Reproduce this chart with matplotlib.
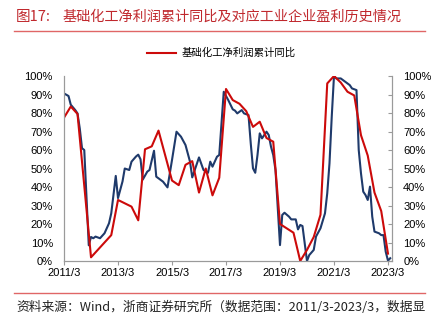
import matplotlib
matplotlib.use("Agg")
import matplotlib.pyplot as plt
from matplotlib.lines import Line2D
import pandas as pd

plt.rcParams["font.family"] = ["Liberation Sans", "Noto Sans CJK SC"]
CJK = ["Noto Sans CJK SC", "DejaVu Sans"]

# 基础化工净利润累计同比（季度）
chem_dates = [
    "2011-03", "2011-06", "2011-09", "2012-03", "2012-12", "2013-03", "2013-09",
    "2013-12", "2014-03", "2014-06", "2014-09", "2015-03", "2015-06", "2015-09",
    "2015-12", "2016-03", "2016-06", "2016-09", "2016-12", "2017-03", "2017-06",
    "2017-09", "2017-12", "2018-03", "2018-06", "2018-09", "2018-12", "2019-03",
    "2019-09", "2019-12", "2020-03", "2020-06", "2020-09", "2020-12", "2021-03",
    "2021-06", "2021-09", "2021-12", "2022-03", "2022-06", "2022-09", "2022-12",
    "2023-03",
]
chem_vals = [
    77.5, 83.5, 79.5, 2.0, 14.0, 33.0, 29.4,
    22.0, 60.4, 62.0, 70.5, 43.5, 41.0, 52.0,
    54.0, 37.0, 50.0, 35.5, 45.0, 93.0, 87.0,
    85.0, 81.0, 72.5, 75.3, 66.5, 64.5, 20.0,
    15.3, 0.0, 6.0, 13.0, 25.0, 96.0, 100.0,
    96.5, 91.5, 89.5, 68.0, 57.0, 37.0, 27.0,
    4.0,
]

# 工业企业利润累计同比（月度）
ind_dates = [
    "2011-03", "2011-05", "2011-06", "2011-08", "2011-09", "2011-10", "2011-11",
    "2011-12", "2012-02", "2012-03", "2012-04", "2012-05", "2012-07", "2012-09",
    "2012-11", "2012-12", "2013-02", "2013-03", "2013-05", "2013-06", "2013-08",
    "2013-09", "2013-11", "2013-12", "2014-01", "2014-02", "2014-04", "2014-05",
    "2014-07", "2014-08", "2014-11", "2015-01", "2015-03", "2015-05", "2015-07",
    "2015-09", "2015-11", "2015-12", "2016-03", "2016-05", "2016-07", "2016-08",
    "2016-09", "2016-11", "2016-12", "2017-02", "2017-04", "2017-06", "2017-07",
    "2017-08", "2017-10", "2017-11", "2018-01", "2018-02", "2018-03", "2018-04",
    "2018-05", "2018-06", "2018-07", "2018-09", "2018-10", "2018-11", "2018-12",
    "2019-01", "2019-03", "2019-04", "2019-05", "2019-07", "2019-08", "2019-10",
    "2019-11", "2019-12", "2020-01", "2020-03", "2020-04", "2020-06", "2020-07",
    "2020-09", "2020-11", "2020-12", "2021-01", "2021-02", "2021-03", "2021-04",
    "2021-06", "2021-08", "2021-10", "2021-11", "2022-01", "2022-02", "2022-03",
    "2022-04", "2022-05", "2022-06", "2022-07", "2022-08", "2022-09", "2022-11",
    "2022-12", "2023-01", "2023-02", "2023-03", "2023-04",
]
ind_vals = [
    90.6, 89.2, 84.5, 81.6, 79.8, 71.7, 61.0,
    60.0, 8.5, 13.0, 12.3, 13.2, 12.3, 15.0,
    20.4, 25.8, 46.0, 34.0, 43.0, 50.0, 49.2,
    53.7, 56.5, 57.5, 55.0, 44.0, 48.3, 49.2,
    59.6, 45.6, 42.9, 39.8, 54.6, 69.9, 67.2,
    62.7, 53.7, 45.2, 56.0, 49.2, 47.7, 53.7,
    51.0, 56.4, 57.3, 91.5, 87.0, 82.0, 81.3,
    79.8, 81.6, 79.8, 78.9, 63.6, 50.1, 47.7,
    57.3, 69.0, 66.3, 69.9, 68.1, 61.8, 57.3,
    49.2, 8.6, 24.9, 26.1, 24.0, 22.5, 22.5,
    17.1, 19.5, 18.9, 0.0, 3.2, 6.0, 13.2,
    17.7, 25.8, 36.6, 52.8, 78.0, 100.0, 98.7,
    98.7, 96.9, 95.1, 93.3, 92.4, 60.0, 47.4,
    37.5, 35.7, 33.0, 40.2, 24.0, 15.9, 15.0,
    14.0, 14.0, 5.0, 0.2, 1.5,
]

tick_dates = ["2011-03", "2013-03", "2015-03", "2017-03", "2019-03", "2021-03", "2023-03"]
tick_labels = ["2011/3", "2013/3", "2015/3", "2017/3", "2019/3", "2021/3", "2023/3"]
pct_ticks = [0, 10, 20, 30, 40, 50, 60, 70, 80, 90, 100]


def month_index(dates):
    # 以 2011/3 为起点的月份序号
    start = pd.Period("2011-03", freq="M")
    return [(p - start).n for p in pd.PeriodIndex(dates, freq="M")]


RED = "#CC0A0A"
BLUE = "#1F3A6B"
GRAY = "#9A9A9A"

fig = plt.figure(figsize=(4.34, 3.27), dpi=100)
ax = fig.add_axes([0.1475, 0.2018, 0.7558, 0.5657])

ax.plot(month_index(ind_dates), ind_vals, color=BLUE, lw=1.5)
ax.plot(month_index(chem_dates), chem_vals, color=RED, lw=1.5,
        label="基础化工净利润累计同比")

ax.set_xlim(0, 145.8)
ax.set_ylim(0, 100)
ax.set_xticks(month_index(tick_dates))
ax.set_xticklabels(tick_labels, fontsize=8)
ax.set_yticks(pct_ticks)
ax.set_yticklabels([f"{v}%" for v in pct_ticks], fontsize=8)
ax.tick_params(axis="y", length=0, pad=8)
ax.tick_params(axis="x", length=3, color=GRAY, pad=2)

# 右侧同刻度的百分比轴
ax2 = ax.twinx()
ax2.set_ylim(0, 100)
ax2.set_yticks(pct_ticks)
ax2.set_yticklabels([f"{v}%" for v in pct_ticks], fontsize=8)
ax2.tick_params(axis="y", direction="in", length=3, color=GRAY, pad=8)

for a in (ax, ax2):
    a.spines["top"].set_visible(False)
    for s in ("left", "right", "bottom"):
        a.spines[s].set_color(GRAY)
        a.spines[s].set_linewidth(0.8)

ax.legend(loc="center", bbox_to_anchor=(0.48, 1.124), frameon=False,
          handlelength=2.8, handletextpad=0.5, prop={"family": CJK, "size": 7.5})

fig.text(0.037, 0.948, "图17:", color="#C0282D", fontsize=10.5, family=CJK, va="center")
fig.text(0.145, 0.948, "基础化工净利润累计同比及对应工业企业盈利历史情况", color="#C0282D",
         fontsize=10.2, family=CJK, va="center")
fig.add_artist(Line2D([0.032, 0.98], [0.905, 0.905], color="#E06666", lw=1.0))
fig.add_artist(Line2D([0.032, 0.98], [0.104, 0.104], color="#E06666", lw=1.0))
fig.text(0.037, 0.061, "资料来源：Wind，浙商证券研究所（数据范围：2011/3-2023/3，数据显",
         fontsize=9.2, family=CJK, va="center", color="#222222")

fig.savefig("out.png", dpi=100)
